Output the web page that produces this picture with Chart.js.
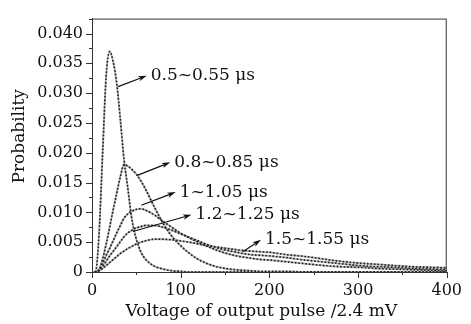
<!DOCTYPE html>
<html>
<head>
<meta charset="utf-8">
<script src="https://cdn.jsdelivr.net/npm/chart.js@4.4.0/dist/chart.umd.min.js"></script>
<style>
  html, body { margin: 0; padding: 0; background: #fff; }
</style>
</head>
<body>
<canvas id="myChart" width="471" height="324"></canvas>
<script>
// voltage of output pulse (x) and probability for each pulse width
const voltage = [0, 4, 8, 12, 16, 20, 24, 28, 32, 36, 40, 45, 50, 55, 60, 70, 80, 90, 100, 110, 120, 130, 140, 150, 160, 170, 180, 190, 200, 220, 240, 260, 280, 300, 320, 340, 360, 380, 400];

const p050 = [0, 0.0001, 0.0065, 0.0200, 0.0330, 0.0370, 0.0352, 0.0315, 0.0255, 0.0190, 0.0145, 0.0088, 0.0055, 0.0034, 0.0022, 0.0010, 0.0005, 0.0002, 0.0001, 0, 0, 0, 0, 0, 0, 0, 0, 0, 0, 0, 0, 0, 0, 0, 0, 0, 0, 0, 0];
const p080 = [0, 0, 0.0004, 0.0022, 0.0047, 0.0076, 0.0105, 0.0133, 0.0160, 0.0180, 0.0178, 0.0172, 0.0164, 0.0153, 0.0140, 0.0110, 0.0082, 0.0060, 0.0044, 0.0031, 0.0021, 0.0014, 0.0009, 0.0006, 0.0004, 0.0003, 0.0002, 0.0001, 0.0001, 0.0001, 0, 0, 0, 0, 0, 0, 0, 0, 0];
const p100 = [0, 0, 0.0004, 0.0015, 0.0028, 0.0040, 0.0053, 0.0066, 0.0078, 0.0090, 0.0097, 0.0102, 0.0105, 0.0106, 0.0104, 0.0096, 0.0085, 0.0075, 0.0065, 0.0057, 0.0050, 0.0043, 0.0037, 0.0032, 0.0028, 0.0025, 0.0023, 0.0021, 0.0020, 0.0017, 0.0014, 0.0011, 0.0009, 0.0008, 0.0006, 0.0005, 0.0004, 0.0003, 0.0002];
const p120 = [0, 0, 0.0003, 0.0010, 0.0018, 0.0027, 0.0035, 0.0043, 0.0051, 0.0059, 0.0065, 0.0070, 0.0074, 0.0076, 0.0078, 0.0078, 0.0075, 0.0070, 0.0064, 0.0058, 0.0052, 0.0046, 0.0041, 0.0037, 0.0034, 0.0031, 0.0029, 0.0028, 0.0027, 0.0024, 0.0020, 0.0017, 0.0014, 0.0011, 0.0009, 0.0008, 0.0006, 0.0005, 0.0004];
const p150 = [0, 0, 0.0002, 0.0006, 0.0011, 0.0016, 0.0021, 0.0026, 0.0031, 0.0035, 0.0039, 0.0043, 0.0047, 0.0050, 0.0052, 0.0055, 0.0055, 0.0054, 0.0052, 0.0050, 0.0047, 0.0044, 0.0042, 0.0040, 0.0038, 0.0036, 0.0035, 0.0034, 0.0033, 0.0029, 0.0026, 0.0022, 0.0018, 0.0015, 0.0013, 0.0011, 0.0009, 0.0008, 0.0007];

const seriesLabels = ['0.5~0.55 μs', '0.8~0.85 μs', '1~1.05 μs', '1.2~1.25 μs', '1.5~1.55 μs'];
const seriesValues = [p050, p080, p100, p120, p150];

const xTicks = [0, 100, 200, 300, 400];
const yTicks = [0, 0.005, 0.010, 0.015, 0.020, 0.025, 0.030, 0.035, 0.040];

// arrows from curve to label, in data units
const notes = [
  { from: [29.4, 0.0311], to: [61.7, 0.0329] },
  { from: [51.1, 0.0162], to: [88.3, 0.0184] },
  { from: [55.6, 0.0112], to: [94.4, 0.0134] },
  { from: [46.1, 0.0068], to: [112.2, 0.0096] },
  { from: [170, 0.0034], to: [190.6, 0.0054] }
];

const FONT = 'DejaVu Serif';
const INK = '#111';

function points(values) {
  return voltage.map((v, i) => ({ x: v, y: values[i] }));
}

var datasets = [];
for (var i = 0; i < seriesValues.length; i++) {
  // grey fitted line
  datasets.push({
    label: seriesLabels[i],
    data: points(seriesValues[i]),
    borderColor: '#b4b4b4',
    borderWidth: 2,
    pointRadius: 0,
    cubicInterpolationMode: 'monotone',
    order: 2
  });
  // black measured dots on top
  datasets.push({
    label: seriesLabels[i] + ' dots',
    data: points(seriesValues[i]),
    borderColor: '#222',
    borderWidth: 1.8,
    borderDash: [0.1, 3.4],
    borderCapStyle: 'round',
    pointRadius: 0,
    cubicInterpolationMode: 'monotone',
    order: 1
  });
}

// frame, tick marks, axis titles and arrow labels
const decorations = {
  id: 'decorations',
  afterDraw(chart) {
    const ctx = chart.ctx;
    const a = chart.chartArea;
    const xs = chart.scales.x;
    const ys = chart.scales.y;
    ctx.save();
    ctx.strokeStyle = '#333';
    ctx.lineWidth = 1;
    ctx.strokeRect(a.left + 0.5, a.top + 0.5, a.right - a.left - 1, a.bottom - a.top);

    ctx.beginPath();
    xs.ticks.forEach(t => {
      const px = Math.round(xs.getPixelForValue(t.value)) + 0.5;
      const len = xTicks.includes(t.value) ? 6 : 3;
      ctx.moveTo(px, a.bottom);
      ctx.lineTo(px, a.bottom + len);
    });
    ys.ticks.forEach(t => {
      const py = Math.round(ys.getPixelForValue(t.value)) + 0.5;
      const major = yTicks.some(v => Math.abs(v - t.value) < 1e-9);
      ctx.moveTo(a.left, py);
      ctx.lineTo(a.left - (major ? 6 : 3), py);
    });
    ctx.stroke();

    ctx.font = '17px "' + FONT + '"';
    ctx.fillStyle = INK;
    ctx.strokeStyle = INK;
    ctx.textBaseline = 'middle';

    // axis titles
    ctx.textAlign = 'center';
    ctx.fillText('Voltage of output pulse /2.4 mV', (a.left + a.right) / 2 - 8, 312);
    ctx.save();
    ctx.translate(20, (a.top + a.bottom) / 2 - 9);
    ctx.rotate(-Math.PI / 2);
    ctx.fillText('Probability', 0, 0);
    ctx.restore();
    ctx.textAlign = 'left';

    notes.forEach((n, i) => {
      const x0 = xs.getPixelForValue(n.from[0]);
      const y0 = ys.getPixelForValue(n.from[1]);
      const x1 = xs.getPixelForValue(n.to[0]);
      const y1 = ys.getPixelForValue(n.to[1]);
      const ang = Math.atan2(y1 - y0, x1 - x0);
      const head = 9;
      ctx.lineWidth = 1.2;
      ctx.beginPath();
      ctx.moveTo(x0, y0);
      ctx.lineTo(x1 - Math.cos(ang) * head * 0.7, y1 - Math.sin(ang) * head * 0.7);
      ctx.stroke();
      ctx.beginPath();
      ctx.moveTo(x1, y1);
      ctx.lineTo(x1 - head * Math.cos(ang - 0.3), y1 - head * Math.sin(ang - 0.3));
      ctx.lineTo(x1 - head * 0.7 * Math.cos(ang), y1 - head * 0.7 * Math.sin(ang));
      ctx.lineTo(x1 - head * Math.cos(ang + 0.3), y1 - head * Math.sin(ang + 0.3));
      ctx.closePath();
      ctx.fill();
      ctx.fillText(seriesLabels[i], x1 + 4, y1);
    });
    ctx.restore();
  }
};

const ctx = document.getElementById('myChart').getContext('2d');
var myChart = new Chart(ctx, {
  type: 'line',
  data: { datasets: datasets },
  options: {
    responsive: false,
    animation: false,
    devicePixelRatio: 1,
    layout: { padding: { top: 10, right: 19, left: 0, bottom: 0 } },
    plugins: { legend: { display: false }, tooltip: { enabled: false } },
    scales: {
      x: {
        type: 'linear',
        min: 0,
        max: 400,
        afterFit: s => { s.height = 52; },
        grid: { display: false, drawTicks: false },
        border: { display: true, color: '#333', width: 1 },
        ticks: {
          stepSize: 50,
          padding: 9,
          color: INK,
          maxRotation: 0,
          autoSkip: false,
          font: { family: FONT, size: 16 },
          callback: v => xTicks.includes(v) ? String(v) : ''
        }
      },
      y: {
        min: 0,
        max: 0.0425,
        afterFit: s => { s.width = 92; },
        grid: { display: false, drawTicks: false },
        border: { display: true, color: '#333', width: 1 },
        ticks: {
          stepSize: 0.0025,
          padding: 9,
          color: INK,
          autoSkip: false,
          font: { family: FONT, size: 16 },
          callback: v => {
            if (!yTicks.some(t => Math.abs(t - v) < 1e-9)) return '';
            return v === 0 ? '0' : v.toFixed(3);
          }
        }
      }
    }
  },
  plugins: [decorations]
});
</script>
</body>
</html>
